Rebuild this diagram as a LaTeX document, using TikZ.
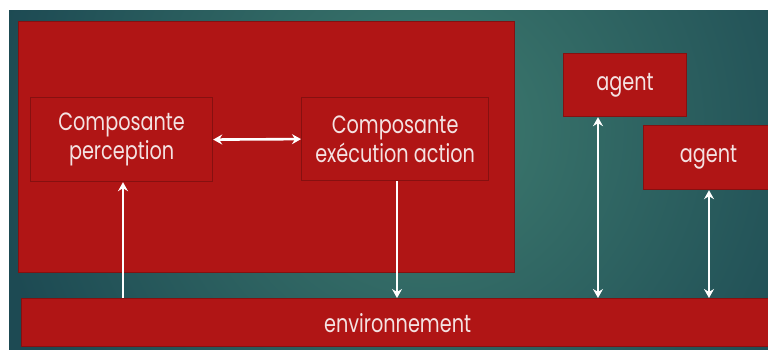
\documentclass[tikz,border=0pt]{standalone}
\usepackage{fontspec}
\setmainfont[FakeStretch=0.77]{Poppins}
\usetikzlibrary{arrows.meta}
\definecolor{boxred}{HTML}{B01515}
\definecolor{boxedge}{HTML}{861010}
\definecolor{tealin}{HTML}{3E7B6F}
\definecolor{tealout}{HTML}{1D4A53}
\definecolor{txt}{HTML}{F4E2E2}
\tikzset{
  redbox/.style={draw=boxedge, line width=1.2pt, fill=boxred, anchor=north west,
    inner sep=0pt, text=txt, align=center, font=\fontsize{25}{28.5}\selectfont},
  tip/.tip={Stealth[length=9pt,width=10pt,inset=3pt]},
  arr/.style={draw=white, line width=1.8pt, -tip},
  dblarr/.style={arr, tip-tip}
}
\begin{document}
\begin{tikzpicture}[x=1pt,y=-1pt]
  \useasboundingbox (0,0) rectangle (768,350);
  \fill[white] (0,0) rectangle (768,350);
  % teal backdrop with soft radial light
  \begin{scope}
    \clip (9,11) rectangle (768,350);
    \fill[tealout] (9,11) rectangle (768,350);
    \shade[inner color=tealin, outer color=tealout] (430,130) circle (440);
  \end{scope}

  % system block
  \node[redbox, minimum width=496, minimum height=251] (sys) at (18,21) {};
  \node[redbox, minimum width=182, minimum height=84] (perc) at (30,97) {Composante\\perception};
  \node[redbox, minimum width=187, minimum height=83] (exec) at (301,97) {Composante\\exécution action};

  % agents and environment
  \node[redbox, minimum width=123, minimum height=63] (ag1) at (563,53) {agent};
  \node[redbox, minimum width=130, minimum height=64] (ag2) at (643,125) {agent};
  \node[redbox, minimum width=752, minimum height=48] (env) at (21,298) {environnement};

  % arrow columns
  \coordinate (cp) at (123,0);
  \coordinate (ce) at (397,0);
  \coordinate (ca) at (598,0);
  \coordinate (cb) at (709,0);

  \draw[dblarr, line width=2.6pt] (perc.east) -- (exec.west);
  \draw[arr] (env.north -| cp) -- (perc.south -| cp);
  \draw[arr] (exec.south -| ce) -- (env.north -| ce);
  \draw[dblarr] (ag1.south -| ca) -- (env.north -| ca);
  \draw[dblarr] (ag2.south -| cb) -- (env.north -| cb);
\end{tikzpicture}
\end{document}
